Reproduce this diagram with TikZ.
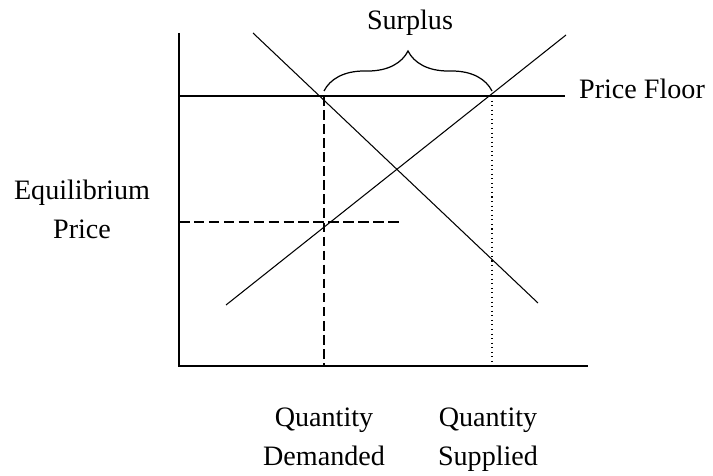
\documentclass[tikz,border=0pt]{standalone}
\usepackage{fontspec}
\setmainfont{Liberation Serif}
\usetikzlibrary{decorations.pathreplacing}
\tikzset{
  axis/.style={line width=0.9pt},
  curve/.style={line width=0.6pt},
  label/.style={align=center, inner sep=0pt}
}
\begin{document}
\begin{tikzpicture}[x=0.02cm, y=-0.02cm, font=\fontsize{16}{22}\selectfont]
            \useasboundingbox (0,0) rectangle (713,476);
            \coordinate (qd) at (324,96);
            \coordinate (qs) at (492,96);
            \draw[axis] (179,33) -- (179,366) -- (588,366);
            \draw[curve, line width=0.7pt] (179,96) -- (565,96);
            \draw[curve] (253,33) -- (538,303);
            \draw[curve] (226,305) -- (566,35);
            \draw[line width=1.1pt, dash pattern=on 5.5pt off 2.5pt] (qd) -- (qd |- 0,366);
            \draw[line width=0.6pt, dotted] (qs) -- (qs |- 0,366);
            \draw[line width=0.7pt, dash pattern=on 6pt off 2.5pt] (179,222) -- (400,222);
            \draw[line width=0.7pt, decorate, decoration={brace, amplitude=0.8cm}]
              ([yshift=0.1cm]qd) -- ([yshift=0.1cm]qs);
            \node[label] (surplus) at (410,23) {Surplus};
            \node[label] (floor) at (642,89) {Price Floor};
            \node[label] (eqprice) at (82,211) {\strut Equilibrium\\\strut Price};
            \node[label] (qdem) at (324,438) {\strut Quantity\\\strut Demanded};
            \node[label] (qsup) at (488,438) {\strut Quantity\\\strut Supplied};
          \end{tikzpicture}
\end{document}
